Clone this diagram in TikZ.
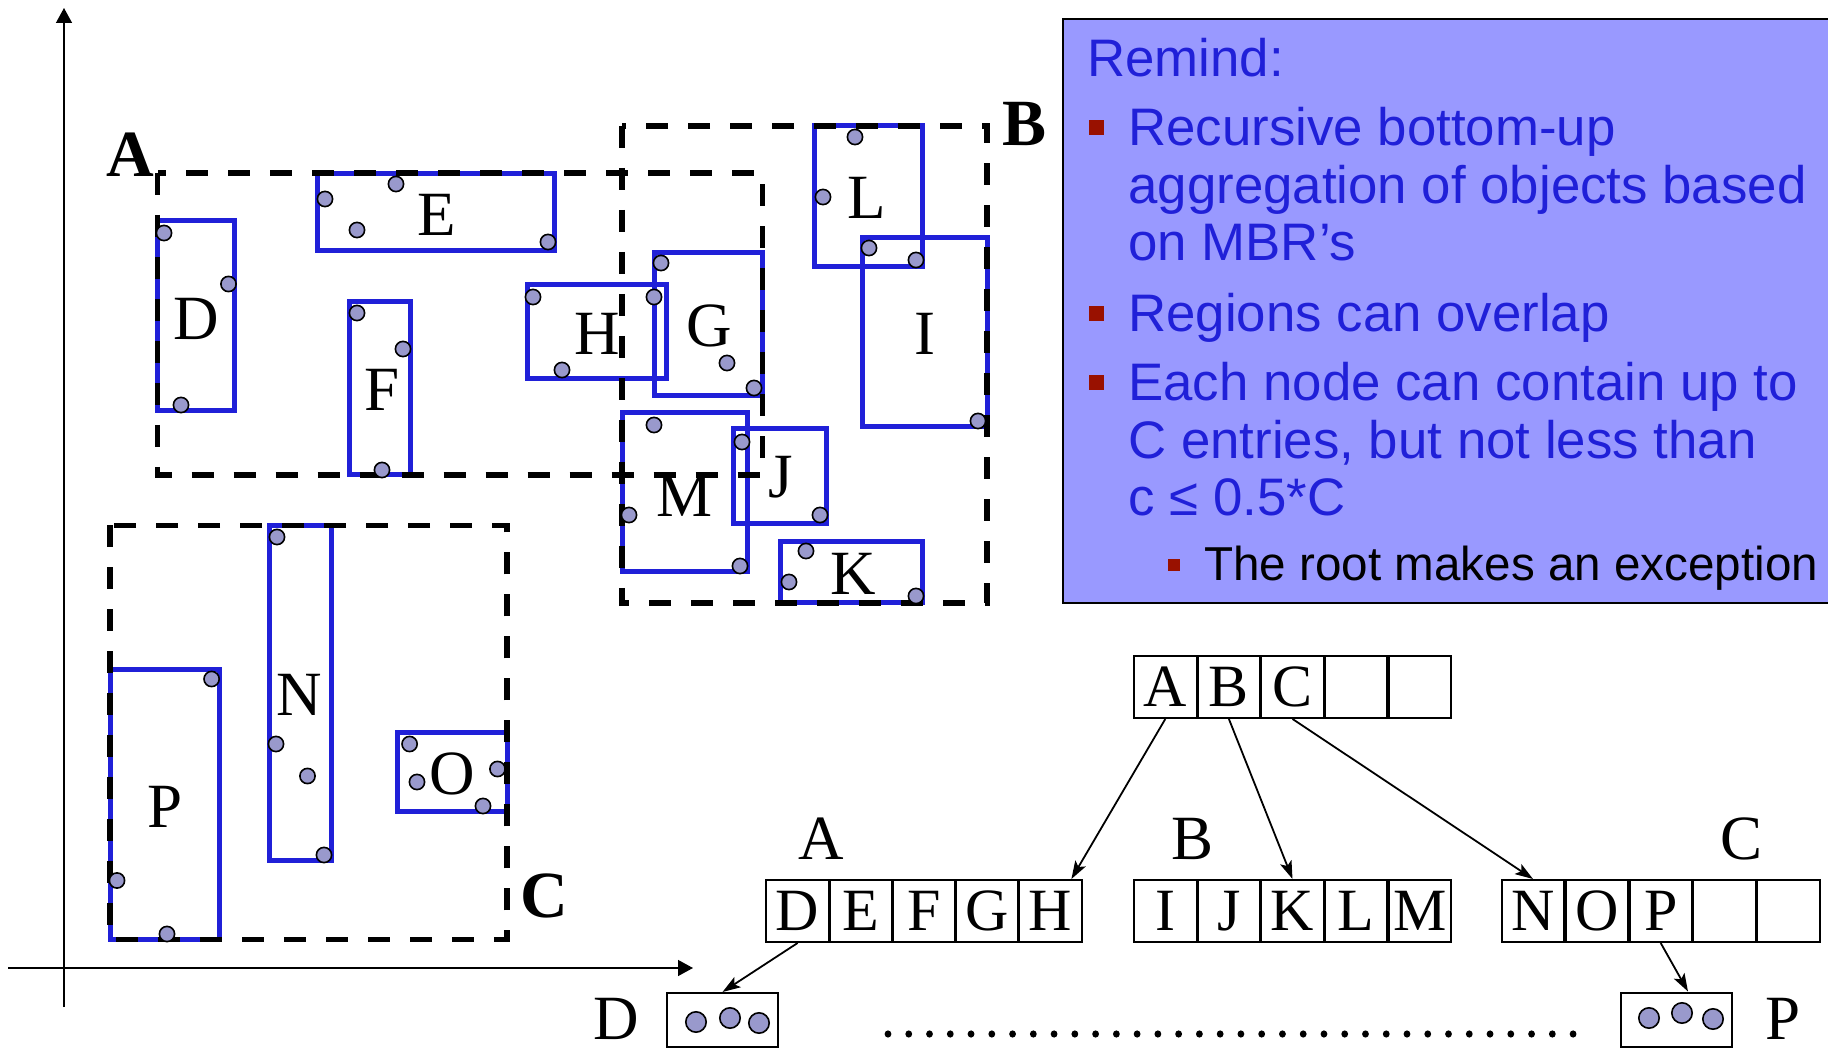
\documentclass[tikz,border=0pt]{standalone}
\usepackage{fontspec}
\setmainfont{Liberation Serif}
\newfontfamily\arialf{Liberation Sans}
\usetikzlibrary{arrows.meta,calc}
\definecolor{mbrblue}{RGB}{32,32,216}
\definecolor{remindfill}{RGB}{153,153,255}
\definecolor{ptfill}{RGB}{153,153,204}
\definecolor{bulletred}{RGB}{153,17,0}
\begin{document}
\begin{tikzpicture}[x=0.5pt,y=-0.5pt,
  mbr/.style={draw=mbrblue, line width=2.5pt},
  region/.style={draw=black, line width=2.75pt, dash pattern=on 11pt off 10pt},
  datapt/.style={draw=black, line width=0.8pt, fill=ptfill},
  lbl/.style={font=\fontsize{31.5}{36}\selectfont, inner sep=0pt},
  rlbl/.style={font=\fontsize{33}{38}\selectfont\bfseries, inner sep=0pt},
  cell/.style={draw, line width=1pt, minimum width=31.2pt, minimum height=31pt, inner sep=0pt,
    font=\fontsize{30}{34}\selectfont, text height=19.9pt, text depth=0pt},
  leaf/.style={draw, line width=1pt, minimum width=55.5pt, minimum height=27pt, inner sep=0pt},
  axis/.style={line width=0.7pt, -{Triangle[length=7.5pt,width=8pt]}},
  treearrow/.style={line width=0.9pt, -{Stealth[length=9pt,width=6pt,inset=2pt]}},
  remtext/.style={font=\arialf\fontsize{26.4}{28}\selectfont, text=mbrblue, anchor=base west, inner sep=0pt},
  subtext/.style={font=\arialf\fontsize{23.8}{26}\selectfont, text=black, anchor=base west, inner sep=0pt},
  bul/.style={fill=bulletred, draw=none}
]
\useasboundingbox (0,0) rectangle (1828,1053);

% axes
\coordinate (yfoot) at (64,1007);
\coordinate (ytip) at (64,8);
\coordinate (xfoot) at (8,968);
\coordinate (xtip) at (693,968);
\draw[axis] (yfoot) -- (ytip);
\draw[axis] (xfoot) -- (xtip);

% MBRs (blue)
\draw[mbr] (157.5,220.7) rectangle (234.6,411);   % D
\draw[mbr] (317.7,174) rectangle (554,250.7);     % E
\draw[mbr] (349.5,301.7) rectangle (410,475);     % F
\draw[mbr] (527,285) rectangle (666.5,379);       % H
\draw[mbr] (654,253) rectangle (762.5,395.7);     % G
\draw[mbr] (814.6,126) rectangle (922.7,266.7);   % L
\draw[mbr] (862.6,237.3) rectangle (987,426.7);   % I
\draw[mbr] (622,413) rectangle (747,571.7);       % M
\draw[mbr] (733.5,429) rectangle (826.7,524);     % J
\draw[mbr] (780.8,541.3) rectangle (922.7,603);   % K
\draw[mbr] (269,525.4) rectangle (331,860);       % N
\draw[mbr] (110.2,669.4) rectangle (219.7,939.5); % P
\draw[mbr] (397.5,733) rectangle (507,811.7);     % O

% regions (dashed)
\draw[region] (157.5,173) rectangle (762.5,475);  % A
\draw[region] (622,126) rectangle (987,603);      % B
\draw[region] (110.2,525.4) rectangle (507,939.5);% C

% data points
\foreach \px/\py in {164/233, 228.5/284, 181/405,
  325/199, 396/184, 357/230, 548/242,
  357/313, 403/349, 382/470,
  533/297, 654/297, 562/370,
  661/263, 727/363, 754/388,
  855/137, 823/197, 916/260,
  869/248, 978/421,
  654/425, 629/515, 740/566,
  742/442, 820/515,
  806/551, 789/582, 916/596,
  277/537, 276/744, 307.5/776, 324/855,
  211.6/679, 117/880.5, 167/934,
  409.6/744, 417/782, 497.5/769, 483/806}
  \draw[datapt] (\px,\py) circle [radius=3.8pt];

% region labels
\node[rlbl] (labA) at (130,155) {A};
\node[rlbl] (labB) at (1025,123.5) {B};
\node[rlbl] (labC) at (544,895.5) {C};

% MBR labels
\node[lbl] (lD) at (196,319) {D};
\node[lbl] (lE) at (437,215) {E};
\node[lbl] (lF) at (382,390) {F};
\node[lbl] (lH) at (597,334) {H};
\node[lbl] (lG) at (709,326) {G};
\node[lbl] (lL) at (867,198) {L};
\node[lbl] (lI) at (925,334) {I};
\node[lbl] (lM) at (685,496) {M};
\node[lbl] (lJ) at (781,477) {J};
\node[lbl] (lK) at (853,574) {K};
\node[lbl] (lN) at (299,695) {N};
\node[lbl] (lP) at (165,807) {P};
\node[lbl] (lO) at (452,774) {O};

% Remind box
\fill[remindfill] (1063.4,19) rectangle (1840,603);
\draw[line width=1pt] (1840,19) -- (1063.4,19) -- (1063.4,603) -- (1840,603);
\node[remtext] (t0) at (1087,77) {Remind:};
\node[remtext] (t1) at (1128,146) {Recursive bottom-up};
\node[remtext] (t2) at (1128,203.7) {aggregation of objects based};
\node[remtext] (t3) at (1128,261) {on MBR’s};
\node[remtext] (t4) at (1128,332) {Regions can overlap};
\node[remtext] (t5) at (1128,401) {Each node can contain up to};
\node[remtext] (t6) at (1128,459) {C entries, but not less than};
\node[remtext] (t7) at (1128,516) {c ≤ 0.5*C};
\node[subtext] (t8) at (1203.8,581) {The root makes an exception};
\fill[bul] (1088.5,120.5) rectangle (1103.5,135.5);
\fill[bul] (1088.5,306.5) rectangle (1103.5,321.5);
\fill[bul] (1088.5,375.5) rectangle (1103.5,390.5);
\fill[bul] (1168,559) rectangle (1180,571);

% tree: root
\node[cell] (r1) at (1165.3,687) {A};
\node[cell] (r2) at (1228.9,687) {B};
\node[cell] (r3) at (1292.5,687) {C};
\node[cell] (r4) at (1356.1,687) {};
\node[cell] (r5) at (1419.7,687) {};
% level A
\node[cell] (a1) at (797.6,911) {D};
\node[cell] (a2) at (860.8,911) {E};
\node[cell] (a3) at (924,911) {F};
\node[cell] (a4) at (987.2,911) {G};
\node[cell] (a5) at (1050.4,911) {H};
% level B
\node[cell] (b1) at (1165.3,911) {I};
\node[cell] (b2) at (1228.9,911) {J};
\node[cell] (b3) at (1292.5,911) {K};
\node[cell] (b4) at (1356.1,911) {L};
\node[cell] (b5) at (1419.7,911) {M};
% level C
\node[cell] (c1) at (1533,911) {N};
\node[cell] (c2) at (1596.8,911) {O};
\node[cell] (c3) at (1660.7,911) {P};
\node[cell] (c4) at (1724.6,911) {};
\node[cell] (c5) at (1788.5,911) {};
% level labels
\node[lbl] (nA) at (821,839) {A};
\node[lbl] (nB) at (1193,839) {B};
\node[lbl] (nC) at (1741,839) {C};

% leaves
\node[leaf] (leafD) at (722.5,1020) {};
\node[leaf] (leafP) at (1676,1019.5) {};
\foreach \px/\py in {696/1022, 730/1018, 759/1023, 1649/1018, 1682/1013, 1713/1019}
  \draw[datapt] (\px,\py) circle [radius=5.1pt];
\node[lbl] (ldD) at (616,1019) {D};
\node[lbl] (ldP) at (1783,1019) {P};

% dotted line
\foreach \i in {0,...,33}
  \fill (888+\i*20.76,1034) ellipse [x radius=1.7pt, y radius=1.8pt];

% tree arrows
\draw[treearrow] (r1.south) -- ($(a5.north)+(21,0)$);
\draw[treearrow] (r2.south) -- (b3.north);
\draw[treearrow] (r3.south) -- (c1.north);
\draw[treearrow] (a1.south) -- (leafD.north);
\draw[treearrow] (c3.south) -- ($(leafP.north)+(12,0)$);
\end{tikzpicture}
\end{document}
